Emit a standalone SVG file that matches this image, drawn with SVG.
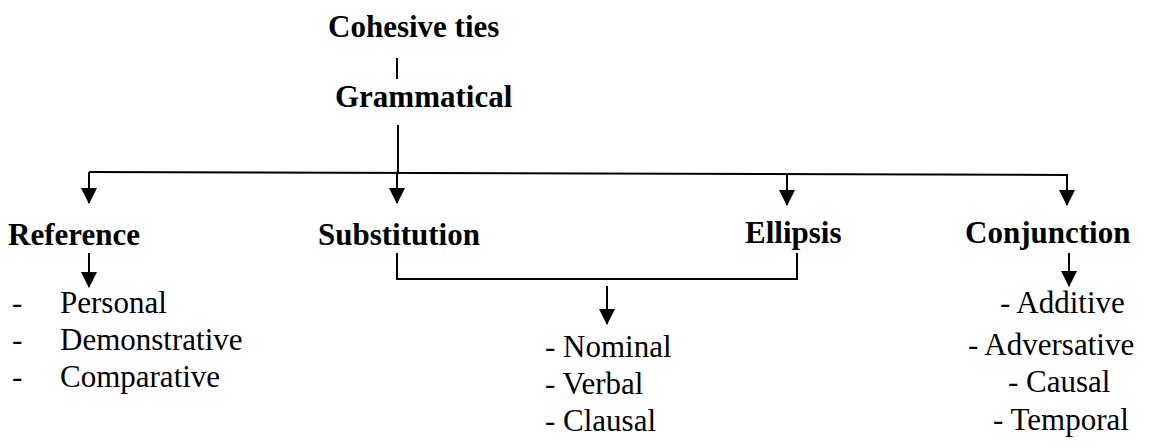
<svg xmlns="http://www.w3.org/2000/svg" width="1154" height="448" viewBox="0 0 1154 448">
<style>
.b{font-family:"Liberation Serif","Times New Roman",serif;font-weight:bold;font-size:31px;fill:#000}
.r{font-family:"Liberation Serif","Times New Roman",serif;font-size:31px;fill:#000}
.ln{stroke:#000;stroke-width:2;fill:none}
</style>
<defs>
<marker id="ah" markerUnits="userSpaceOnUse" markerWidth="18" markerHeight="16" refX="15" refY="8" orient="auto" viewBox="0 0 16 16">
<path d="M0,0 L16,8 L0,16 Z" fill="#000"/>
</marker>
</defs>
<g id="connectors">
<line class="ln" x1="397" y1="58" x2="397" y2="79"/>
<line class="ln" x1="398" y1="125" x2="398" y2="173"/>
<line class="ln" x1="89" y1="172" x2="1068" y2="175"/>
<line class="ln" x1="89" y1="172" x2="89" y2="203" marker-end="url(#ah)"/>
<line class="ln" x1="397" y1="173" x2="397" y2="203" marker-end="url(#ah)"/>
<line class="ln" x1="787" y1="174" x2="787" y2="205" marker-end="url(#ah)"/>
<line class="ln" x1="1067" y1="175" x2="1067" y2="205" marker-end="url(#ah)"/>
<line class="ln" x1="89" y1="253" x2="89" y2="287" marker-end="url(#ah)"/>
<polyline class="ln" points="397,253 397,279 797,279 797,253"/>
<line class="ln" x1="607" y1="286" x2="607" y2="324" marker-end="url(#ah)"/>
<line class="ln" x1="1069" y1="253" x2="1069" y2="286" marker-end="url(#ah)"/>
</g>
<g id="cohesive"><text class="b" x="328" y="37">Cohesive ties</text></g>
<g id="grammatical"><text class="b" x="335" y="107">Grammatical</text></g>
<g id="reference"><text class="b" x="8" y="245">Reference</text></g>
<g id="substitution"><text class="b" x="318" y="245">Substitution</text></g>
<g id="ellipsis"><text class="b" x="745" y="243">Ellipsis</text></g>
<g id="conjunction"><text class="b" x="965" y="243">Conjunction</text></g>
<g id="reference-list">
<text class="r" x="12" y="313">-</text><text class="r" x="60" y="313">Personal</text>
<text class="r" x="12" y="350">-</text><text class="r" x="60" y="350">Demonstrative</text>
<text class="r" x="12" y="387">-</text><text class="r" x="60" y="387">Comparative</text>
</g>
<g id="subst-ellipsis-list">
<text class="r" x="545" y="357">- Nominal</text>
<text class="r" x="545" y="394">- Verbal</text>
<text class="r" x="545" y="431">- Clausal</text>
</g>
<g id="conjunction-list">
<text class="r" x="1000" y="313">- Additive</text>
<text class="r" x="968" y="355">- Adversative</text>
<text class="r" x="1008" y="392">- Causal</text>
<text class="r" x="993" y="430">- Temporal</text>
</g>
</svg>
